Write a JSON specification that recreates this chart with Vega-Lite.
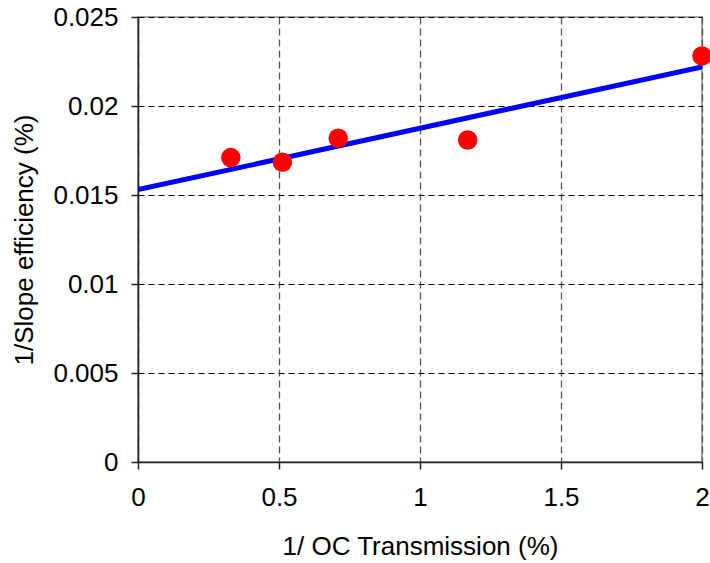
{
  "$schema": "https://vega.github.io/schema/vega-lite/v6.json",
  "width": 564,
  "height": 445,
  "autosize": "none",
  "padding": {"left": 138, "top": 17, "right": 8, "bottom": 101},
  "background": "white",
  "config": {
    "view": {"stroke": "#888888", "strokeWidth": 1.5},
    "font": "Liberation Sans"
  },
  "datasets": {
    "pts": [
      {"x": 0.329, "y": 0.0171},
      {"x": 0.512, "y": 0.01684},
      {"x": 0.71, "y": 0.01819},
      {"x": 1.169, "y": 0.01809},
      {"x": 2.0, "y": 0.02281}
    ],
    "fit": [
      {"x": 0, "y": 0.0153},
      {"x": 2, "y": 0.0222}
    ]
  },
  "layer": [
    {
      "data": {"name": "fit"},
      "mark": {"type": "line", "color": "#0000FF", "strokeWidth": 5, "clip": true},
      "encoding": {
        "x": {
          "field": "x", "type": "quantitative",
          "scale": {"domain": [0, 2], "nice": false, "zero": false},
          "axis": {
            "title": "1/ OC Transmission (%)",
            "values": [0, 0.5, 1, 1.5, 2],
            "format": "~g",
            "labelFont": "Liberation Sans", "labelFontSize": 26, "labelColor": "black",
            "labelPadding": 15, "labelFlush": false,
            "titleFont": "Liberation Sans", "titleFontSize": 26, "titleFontWeight": "normal", "titleColor": "black",
            "titlePadding": 23,
            "domainColor": "#222222", "domainWidth": 1.5,
            "tickColor": "#222222", "tickSize": 7, "tickWidth": 1.5,
            "grid": true, "gridColor": "#555555", "gridDash": [7, 4], "gridWidth": 1.3, "gridOpacity": 1
          }
        },
        "y": {
          "field": "y", "type": "quantitative",
          "scale": {"domain": [0, 0.025], "nice": false, "zero": true},
          "axis": {
            "title": "1/Slope efficiency (%)",
            "values": [0, 0.005, 0.01, 0.015, 0.02, 0.025],
            "format": "~g",
            "labelFont": "Liberation Sans", "labelFontSize": 26, "labelColor": "black",
            "labelPadding": 13, "labelFlush": false,
            "titleFont": "Liberation Sans", "titleFontSize": 26, "titleFontWeight": "normal", "titleColor": "black",
            "titlePadding": 15,
            "domainColor": "#222222", "domainWidth": 1.5,
            "tickColor": "#222222", "tickSize": 7, "tickWidth": 1.5,
            "grid": true, "gridColor": "black", "gridDash": [6, 4], "gridWidth": 1.2, "gridOpacity": 1
          }
        }
      }
    },
    {
      "data": {"name": "pts"},
      "mark": {"type": "circle", "color": "#FF0000", "opacity": 1, "size": 380, "clip": false},
      "encoding": {
        "x": {"field": "x", "type": "quantitative"},
        "y": {"field": "y", "type": "quantitative"}
      }
    }
  ]
}
